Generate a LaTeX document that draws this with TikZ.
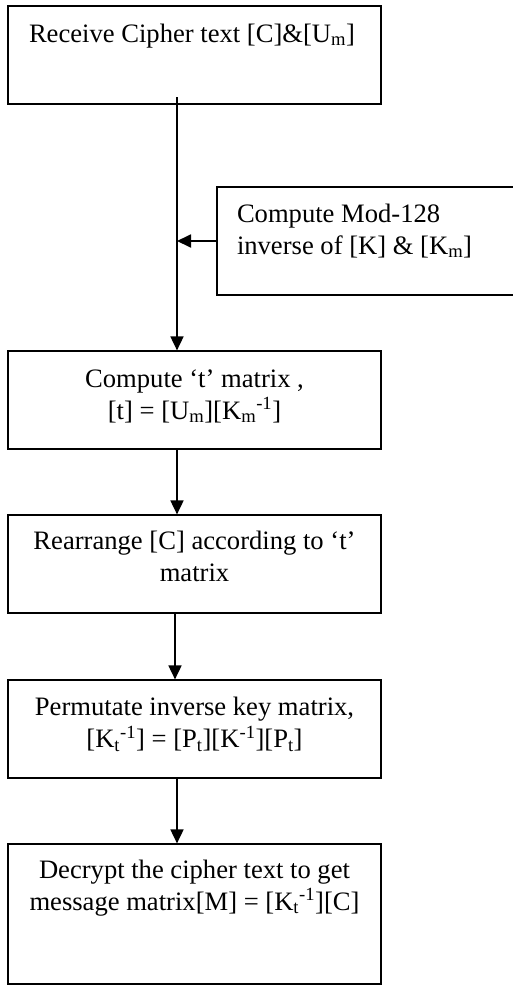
\documentclass[tikz,border=0pt]{standalone}
\usepackage{fontspec}
\setmainfont{Liberation Serif}
\usetikzlibrary{arrows.meta}
\begin{document}
\begin{tikzpicture}[x=1pt,y=-1pt,
  box/.style={draw=black,line width=1.2pt,inner sep=0pt,fill=none},
  lbl/.style={inner sep=0pt,outer sep=0pt,font=\fontsize{26.6}{32}\selectfont},
  arr/.style={line width=1.8pt,-{Triangle[length=14pt,width=13pt]}}]
\useasboundingbox (0,0) rectangle (513,985);
\clip (0,0) rectangle (513,985);
\fill[white] (0,0) rectangle (513,985);
% boxes
\node[box,minimum width=373pt,minimum height=98pt] (b1) at (194.5,55) {};
\node[box,minimum width=303pt,minimum height=108pt] (b2) at (368.5,241) {};
\node[box,minimum width=373pt,minimum height=98pt] (b3) at (194.5,400) {};
\node[box,minimum width=373pt,minimum height=98pt] (b4) at (194.5,564) {};
\node[box,minimum width=373pt,minimum height=98pt] (b5) at (194.5,729) {};
\node[box,minimum width=373pt,minimum height=140pt] (b6) at (194.5,914) {};
% labels
\node[lbl,anchor=base west] (t1) at (29,42) {Receive Cipher text [C]\&[U\textsubscript{m}]};
\node[lbl,anchor=base west] (t2) at (237,222) {\begin{tabular}[t]{@{}l@{}}Compute Mod-128\\ inverse of [K] \& [K\textsubscript{m}]\end{tabular}};
\node[lbl,anchor=base] (t3) at (194.5,387) {\begin{tabular}[t]{@{}c@{}}Compute ‘t’ matrix ,\\ {[t]} = [U\textsubscript{m}][K\textsubscript{m}\textsuperscript{-1}]\end{tabular}};
\node[lbl,anchor=base] (t4) at (194.5,549) {\begin{tabular}[t]{@{}c@{}}Rearrange [C] according to ‘t’\\ matrix\end{tabular}};
\node[lbl,anchor=base] (t5) at (194.5,715.5) {\begin{tabular}[t]{@{}c@{}}Permutate inverse key matrix,\\ {[K\textsubscript{t}\textsuperscript{-1}]} = [P\textsubscript{t}][K\textsuperscript{-1}][P\textsubscript{t}]\end{tabular}};
\node[lbl,anchor=base] (t6) at (194.5,878) {\begin{tabular}[t]{@{}c@{}}Decrypt the cipher text to get\\ message matrix[M] = [K\textsubscript{t}\textsuperscript{-1}][C]\end{tabular}};
% connectors
\coordinate (s) at (177,97);
\draw[arr] (s) -- (s |- b3.north);
\draw[arr] (b2.west) -- (b2.west -| s);
\draw[arr] ([xshift=-17.5pt]b3.south) -- ([xshift=-17.5pt]b4.north);
\draw[arr] ([xshift=-19.5pt]b4.south) -- ([xshift=-19.5pt]b5.north);
\draw[arr] ([xshift=-17.5pt]b5.south) -- ([xshift=-17.5pt]b6.north);
\end{tikzpicture}
\end{document}
